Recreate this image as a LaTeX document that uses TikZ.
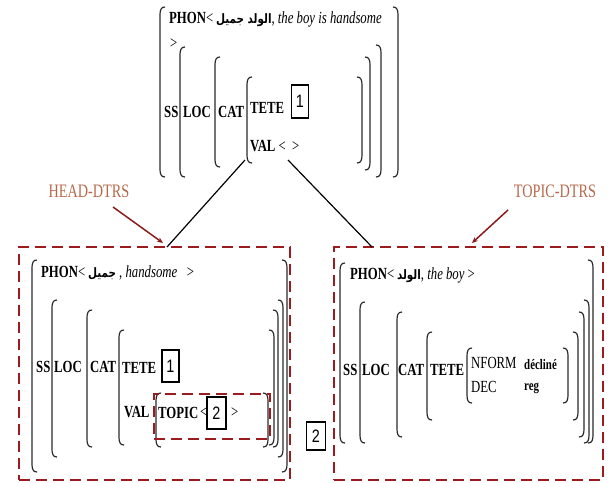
\documentclass[tikz,border=0pt]{standalone}
\usepackage{fontspec}
\setmainfont{Liberation Serif}[FakeStretch=0.75]
\newfontfamily\numfont{Liberation Sans}[FakeStretch=0.8]
\newfontfamily\arabicfont[Script=Arabic,FakeStretch=0.8]{DejaVu Sans}
\TeXXeTstate=1
\usetikzlibrary{arrows.meta}
\definecolor{brk}{HTML}{2A2A2A}
\definecolor{dred}{HTML}{9B1B1F}
\definecolor{arred}{HTML}{8B1A1A}
\definecolor{dtrs}{HTML}{B5694A}
\newcommand\LBrk[3]{\draw[brkline] ({#1+5},#2) .. controls ({#1+1},#2) and (#1,{#2+3}) .. (#1,{#2+8}) -- (#1,{#3-8}) .. controls (#1,{#3-3}) and ({#1+1},#3) .. ({#1+5},#3);}
\newcommand\RBrk[3]{\draw[brkline] ({#1-5},#2) .. controls ({#1-1},#2) and (#1,{#2+3}) .. (#1,{#2+8}) -- (#1,{#3-8}) .. controls (#1,{#3-3}) and ({#1-1},#3) .. ({#1-5},#3);}
\newcommand\Ar[1]{{\arabicfont\bfseries\fontsize{13}{15}\selectfont\beginR #1\endR}}
\begin{document}
\begin{tikzpicture}[x=1pt,y=-1pt,
  brkline/.style={draw=brk,line width=1.2pt},
  lbl/.style={anchor=west,inner sep=0pt,font=\fontsize{17}{20}\selectfont\bfseries},
  txt/.style={anchor=west,inner sep=0pt,font=\fontsize{17}{20}\selectfont},
  small/.style={anchor=west,inner sep=0pt,font=\fontsize{14.5}{17}\selectfont\bfseries},
  numbox/.style={draw=black,line width=1.1pt,inner sep=0pt,font=\numfont\fontsize{18}{20}\selectfont},
  dbox/.style={draw=dred,line width=1.8pt,dash pattern=on 11pt off 6pt,inner sep=0pt},
  dtrslbl/.style={inner sep=0pt,text=dtrs,font=\fontsize{19}{22}\selectfont},
  conn/.style={draw=black,line width=1.2pt},
  redarr/.style={draw=arred,line width=1.5pt,-{Stealth[length=6pt,width=5pt]}}]
\useasboundingbox (0,0) rectangle (613,482);
% ---------- top AVM ----------
\LBrk{160}{7}{177}\RBrk{398}{7}{177}
\LBrk{180}{47}{177}\RBrk{381}{45}{177}
\LBrk{215}{57}{167}\RBrk{370}{57}{170}
\LBrk{247}{77}{163}\RBrk{362}{77}{163}
\node[lbl] (tphon) at (169,19) {PHON{\mdseries<}\,\Ar{الولد جميل}{\mdseries, \itshape the boy is handsome}};
\node[txt] (tgt) at (170,44) {>};
\node[lbl] (tss) at (164,112) {SS};
\node[lbl] (tloc) at (183,112) {LOC};
\node[lbl] (tcat) at (218,112) {CAT};
\node[lbl] (ttete) at (250,108) {TETE};
\node[numbox,minimum width=17pt,minimum height=33pt] (tb1) at (300,101.5) {1};
\node[lbl] (tval) at (250,146) {VAL{\mdseries\ <\ \ >}};
% ---------- dashed boxes ----------
\node[dbox,minimum width=271pt,minimum height=233pt] (hbox) at (154.5,363.5) {};
\node[dbox,minimum width=269pt,minimum height=233pt] (tbox) at (468.5,363.5) {};
% ---------- connectors ----------
\coordinate (topL) at (245,160);
\coordinate (topR) at (288,160);
\coordinate (hIn) at (167,247);
\coordinate (tIn) at (372,247);
\draw[conn] (topL) -- (hIn);
\draw[conn] (topR) -- (tIn);
\node[dtrslbl] (hlab) at (89,191) {HEAD-DTRS};
\node[dtrslbl] (tlab) at (555,191) {TOPIC-DTRS};
\coordinate (hA) at (113,207);
\coordinate (hB) at (163,243);
\coordinate (tA) at (508,210);
\coordinate (tB) at (472,243);
\draw[redarr] (hA) -- (hB);
\draw[redarr] (tA) -- (tB);
% ---------- HEAD-DTRS AVM ----------
\LBrk{32}{260}{472}\RBrk{287}{260}{472}
\LBrk{52}{300}{457}\RBrk{283}{300}{457}
\LBrk{87}{310}{447}\RBrk{278}{310}{447}
\LBrk{119}{330}{445}\RBrk{274}{330}{445}
\LBrk{156}{393}{447}\RBrk{268}{393}{447}
\node[lbl] (hphon) at (41,273) {PHON{\mdseries<}\,\Ar{جميل}{\mdseries\ , \itshape handsome\ \ \ }{\mdseries >}};
\node[lbl] (hss) at (36,367) {SS};
\node[lbl] (hloc) at (54,367) {LOC};
\node[lbl] (hcat) at (90,367) {CAT};
\node[lbl] (htete) at (122,368) {TETE};
\node[numbox,minimum width=17pt,minimum height=32pt] (hb1) at (170.5,366) {1};
\node[lbl] (hval) at (124,412) {VAL};
\node[lbl] (htopic) at (158,413) {TOPIC};
\node[txt] (hlt) at (200,413) {<};
\node[numbox,minimum width=19pt,minimum height=32pt] (hb2) at (216.5,413) {2};
\node[txt] (hgt) at (231,413) {>};
\node[dbox,minimum width=116pt,minimum height=45pt] (topicbox) at (212,416.5) {};
\node[numbox,minimum width=19pt,minimum height=28pt] (ob2) at (316,436) {2};
% ---------- TOPIC-DTRS AVM ----------
\LBrk{340}{263}{443}\RBrk{593}{260}{443}
\LBrk{360}{302}{443}\RBrk{589}{300}{443}
\LBrk{397}{312}{437}\RBrk{584}{312}{437}
\LBrk{427}{332}{420}\RBrk{578}{332}{420}
\LBrk{467}{348}{403}\RBrk{568}{348}{403}
\node[lbl] (rphon) at (350,275) {PHON{\mdseries<}\,\Ar{الولد}{\mdseries, \itshape the boy }{\mdseries >}};
\node[lbl] (rss) at (343,370) {SS};
\node[lbl] (rloc) at (362,370) {LOC};
\node[lbl] (rcat) at (398,370) {CAT};
\node[lbl] (rtete) at (430,370) {TETE};
\node[txt] (rnform) at (471,363) {NFORM};
\node[txt] (rdec) at (471,387) {DEC};
\node[small] (rdecl) at (524,365) {décliné};
\node[small] (rreg) at (524,388) {reg};
\end{tikzpicture}
\end{document}
